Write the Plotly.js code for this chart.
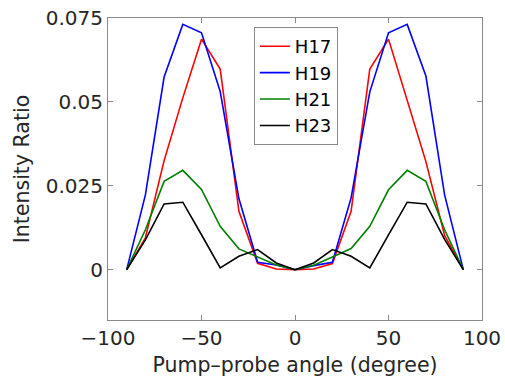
<!DOCTYPE html>
<html>
<head>
<meta charset="utf-8">
<script src="https://cdn.plot.ly/plotly-3.0.1.min.js"></script>
<style>html,body{margin:0;padding:0;background:#fff;}#chart{width:505px;height:381px;}</style>
</head>
<body>
<div id="chart"></div>
<script>
const angles = [-90,-80,-70,-60,-50,-40,-30,-20,-10,0,10,20,30,40,50,60,70,80,90];
const H17 = [0,0.0095,0.0325,0.0512,0.0687,0.0598,0.0174,0.0019,0.0002,0,0.0002,0.0018,0.0174,0.0598,0.0687,0.0508,0.0322,0.0102,0];
const H19 = [0,0.0223,0.0574,0.0731,0.0706,0.0531,0.0212,0.0022,0.0014,0,0.0012,0.0022,0.0214,0.0530,0.0706,0.0731,0.0577,0.0223,0];
const H21 = [0,0.0119,0.0263,0.0296,0.0239,0.0129,0.0062,0.0038,0.0014,0,0.0013,0.0038,0.0063,0.0129,0.0238,0.0296,0.0263,0.0119,0];
const H23 = [0,0.0089,0.0196,0.0201,0.0104,0.0005,0.0040,0.0060,0.0020,0,0.0020,0.0060,0.0040,0.0005,0.0104,0.0201,0.0196,0.0090,0];
const seriesNames = ['H17','H19','H21','H23'];
const seriesColors = ['#ff0000','#0000ff','#008000','#000000'];
const xTicks = [-100,-50,0,50,100];
const yTicks = [0,0.025,0.05,0.075];
const yTickText = ['0','0.025','0.05','0.075'];

const all = [H17,H19,H21,H23];
const traces = all.map((v,i)=>({
  x: angles, y: v, type:'scatter', mode:'lines', name: seriesNames[i],
  line:{color: seriesColors[i], width:1.6}
}));
const font = {family:'DejaVu Sans, sans-serif', size:20, color:'#262626'};
const titleFont = {family:'DejaVu Sans, sans-serif', size:20.5, color:'#262626'};
const axisCommon = {
  showgrid:false, zeroline:false, showline:true, mirror:'allticks',
  linecolor:'#8a8a8a', linewidth:1, ticks:'inside', ticklen:5, tickcolor:'#8a8a8a',
  tickfont:font
};
const layout = {
  width:505, height:381,
  margin:{l:108, r:23, t:18, b:61},
  paper_bgcolor:'#fff', plot_bgcolor:'#fff',
  font:font,
  showlegend:true,
  legend:{x:0.39, y:0.97, xanchor:'left', yanchor:'top', bgcolor:'#fff',
    bordercolor:'#8a8a8a', borderwidth:1, font:{family:'DejaVu Sans, sans-serif', size:18, color:'#000'},
    itemwidth:30, tracegroupgap:0},
  xaxis:Object.assign({}, axisCommon, {range:[-100,100], tickvals:xTicks,
    title:{text:'Pump\u2013probe angle (degree)', font:titleFont, standoff:8}}),
  yaxis:Object.assign({}, axisCommon, {range:[-0.015,0.075], tickvals:yTicks, ticktext:yTickText,
    title:{text:'Intensity Ratio', font:titleFont, standoff:10}})
};
Plotly.newPlot('chart', traces, layout, {displayModeBar:false, staticPlot:true});
</script>
</body>
</html>
